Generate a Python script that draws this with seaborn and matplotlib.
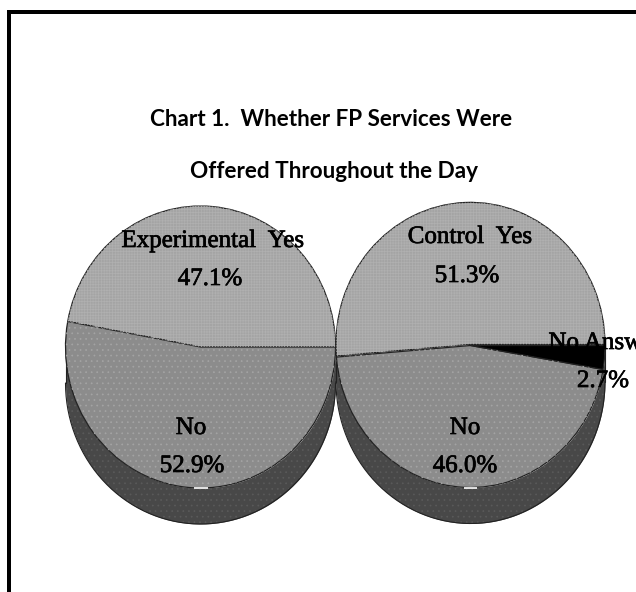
import numpy as np
import matplotlib
matplotlib.use("Agg")
import matplotlib.pyplot as plt
import matplotlib.patheffects as pe
from matplotlib.patches import Rectangle
import seaborn as sns

sns.set_theme(style="white")
plt.rcParams["hatch.linewidth"] = 0.5

W, H = 636, 592
title_lines = ["Chart 1.  Whether FP Services Were", "Offered Throughout the Day"]
exp_labels = ["Experimental  Yes", "No"]
exp_values = [47.1, 52.9]
ctl_labels = ["Control  Yes", "No", "No Answer"]
ctl_values = [51.3, 46.0, 2.7]

YES_GREY, NO_GREY, WALL_GREY = "#a4a4a4", "#8c8c8c", "#484848"
EDGE = "#222222"
DEPTH = 36


def tilted_pie(fig, cx, cy, rx, ry, values, colors, textures, explode=None):
    """Draw a pie squashed into an ellipse, with a dark wall hanging below it."""
    # axes span exactly the ellipse plus its wall, measured in pixels
    ax = fig.add_axes([(cx - rx) / W, 1 - (cy + ry + DEPTH) / H, 2 * rx / W, (2 * ry + DEPTH) / H])
    t = np.linspace(np.pi, 2 * np.pi, 200)
    ex, ey = np.cos(t), np.sin(t)
    drop = 2 * DEPTH / (2 * ry)
    ax.fill_between(ex, ey, ey - drop, color=WALL_GREY, lw=0, zorder=1)
    ax.fill_between(ex, ey, ey - drop, facecolor="none", edgecolor="#5a5a5a", hatch="...", lw=0, zorder=1.2)
    ax.plot(ex, ey - drop, color=EDGE, lw=0.8, zorder=1.5, clip_on=False)
    for side in (-1, 1):
        ax.plot([side, side], [0, -drop], color=EDGE, lw=0.8, zorder=1.5, clip_on=False)

    wedges, _ = ax.pie(values, startangle=0, counterclock=True, colors=colors, radius=1, explode=explode,
                       wedgeprops=dict(edgecolor=EDGE, linewidth=0.9, zorder=2))
    # a second, fill-less pie carries the screen-tone texture of each slice
    overlay, _ = ax.pie(values, startangle=0, counterclock=True, radius=1, explode=explode,
                        colors=["none"] * len(values),
                        wedgeprops=dict(linewidth=0, zorder=2.1))
    for w, (tone, hatch) in zip(overlay, textures):
        w.set_facecolor("none")
        w.set_edgecolor(tone)
        w.set_hatch(hatch)
        w.set_linewidth(0)
    # thin bright nick on the front rim of the pie
    ax.plot([-0.05, 0.052], [-1.003, -1.003], color="white", lw=1.2, zorder=3, solid_capstyle="butt")

    ax.set_aspect("auto")
    ax.set_xlim(-1, 1)
    ax.set_ylim(-1 - drop, 1)
    ax.patch.set_alpha(0)
    for w in list(wedges) + list(overlay):
        w.set_clip_on(False)
    ax.axis("off")
    return ax


fig = plt.figure(figsize=(W / 100, H / 100), dpi=100, facecolor="white")

yes_tone = ("#b0b0b0", "++++++")
no_tone = ("#a4a4a4", "...")
black_tone = ("#000000", "")

tilted_pie(fig, 200.5, 347, 135, 141, exp_values, [YES_GREY, NO_GREY], [yes_tone, no_tone])
tilted_pie(fig, 470.5, 345.5, 134.5, 142, ctl_values, [YES_GREY, NO_GREY, "#000000"],
           [yes_tone, no_tone, black_tone], explode=[0.008, 0, 0])

# page border: only the top and left rules are visible
fig.add_artist(Rectangle((7 / W, 0), 4 / W, 1 - 10 / H, transform=fig.transFigure, color="black", lw=0))
fig.add_artist(Rectangle((7 / W, 1 - 14 / H), 1 - 7 / W, 4 / H, transform=fig.transFigure, color="black", lw=0))


def put(x, y, s, **kw):
    fig.text(x / W, 1 - y / H, s, ha="center", va="center", **kw)


title_font = dict(family="Lato", fontsize=16.2, fontweight="bold", color="black")
put(331.5, 119.5, title_lines[0], **title_font)
put(334, 171.5, title_lines[1], **title_font)

label_font = dict(family="Liberation Serif", fontsize=18, color="black",
                  path_effects=[pe.withStroke(linewidth=0.5, foreground="black")])
put(213, 241, exp_labels[0], **label_font)
put(210, 279, f"{exp_values[0]:.1f}%", **label_font)
put(191, 428, exp_labels[1], **label_font)
put(192, 466, f"{exp_values[1]:.1f}%", **label_font)
put(470, 237, ctl_labels[0], **label_font)
put(467, 276, f"{ctl_values[0]:.1f}%", **label_font)
put(465, 428, ctl_labels[1], **label_font)
put(465, 466, f"{ctl_values[1]:.1f}%", **label_font)
put(605, 343, ctl_labels[2], **label_font)
put(603, 381, f"{ctl_values[2]:.1f}%", **label_font)

fig.savefig("out.png", dpi=100)
